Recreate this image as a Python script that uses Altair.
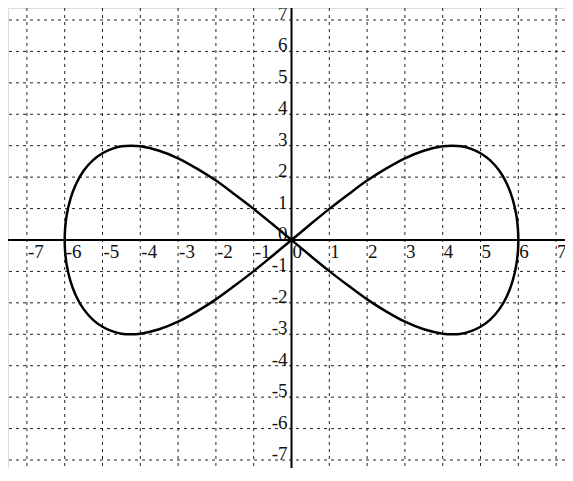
import altair as alt
import pandas as pd

# Curve points (figure-eight), in drawing order
curve_x = [0, 0.5, 1, 1.5, 2, 2.5, 3, 3.5, 4, 4.25, 4.5, 4.75, 5, 5.25, 5.5, 5.7, 5.85, 5.95, 5.99, 6,
           5.99, 5.95, 5.85, 5.7, 5.5, 5.25, 5, 4.75, 4.5, 4.25, 4, 3.5, 3, 2.5, 2, 1.5, 1, 0.5, 0,
           -0.5, -1, -1.5, -2, -2.5, -3, -3.5, -4, -4.25, -4.5, -4.75, -5, -5.25, -5.5, -5.7, -5.85, -5.95, -5.99, -6,
           -5.99, -5.95, -5.85, -5.7, -5.5, -5.25, -5, -4.75, -4.5, -4.25, -4, -3.5, -3, -2.5, -2, -1.5, -1, -0.5, 0]
curve_y = [0, 0.5, 0.99, 1.45, 1.89, 2.27, 2.6, 2.84, 2.98, 3.0, 2.98, 2.9, 2.76, 2.54, 2.2, 1.78, 1.3, 0.77, 0.35, 0,
           -0.35, -0.77, -1.3, -1.78, -2.2, -2.54, -2.76, -2.9, -2.98, -3.0, -2.98, -2.84, -2.6, -2.27, -1.89, -1.45, -0.99, -0.5, 0,
           0.5, 0.99, 1.45, 1.89, 2.27, 2.6, 2.84, 2.98, 3.0, 2.98, 2.9, 2.76, 2.54, 2.2, 1.78, 1.3, 0.77, 0.35, 0,
           -0.35, -0.77, -1.3, -1.78, -2.2, -2.54, -2.76, -2.9, -2.98, -3.0, -2.98, -2.84, -2.6, -2.27, -1.89, -1.45, -0.99, -0.5, 0]

x_ticks = [-7, -6, -5, -4, -3, -2, -1, 0, 1, 2, 3, 4, 5, 6, 7]
y_ticks = [-7, -6, -5, -4, -3, -2, -1, 0, 1, 2, 3, 4, 5, 6, 7]

curve = pd.DataFrame({"x": curve_x, "y": curve_y, "i": range(len(curve_x))})
xt = pd.DataFrame({"x": x_ticks, "y": [0] * len(x_ticks), "label": [str(v) for v in x_ticks]})
yt = pd.DataFrame({"y": y_ticks, "x": [0] * len(y_ticks), "label": [str(v) for v in y_ticks]})

xs = alt.Scale(domain=[-7.50, 7.235], nice=False, zero=False)
ys = alt.Scale(domain=[-7.254, 7.381], nice=False, zero=False)

FONT = "Liberation Serif"

vgrid = alt.Chart(xt).mark_rule(color="#222", strokeWidth=1, strokeDash=[3, 4]).encode(
    x=alt.X("x:Q", scale=xs, axis=None))
hgrid = alt.Chart(yt).mark_rule(color="#222", strokeWidth=1, strokeDash=[3, 4]).encode(
    y=alt.Y("y:Q", scale=ys, axis=None))

xaxis = alt.Chart(pd.DataFrame({"y": [0]})).mark_rule(color="black", strokeWidth=2).encode(
    y=alt.Y("y:Q", scale=ys, axis=None))
yaxis = alt.Chart(pd.DataFrame({"x": [0]})).mark_rule(color="black", strokeWidth=2).encode(
    x=alt.X("x:Q", scale=xs, axis=None))

xlabels = alt.Chart(xt).mark_text(font=FONT, fontSize=19, align="left", baseline="top",
                                  dx=1, dy=3, color="#111").encode(
    x=alt.X("x:Q", scale=xs, axis=None), y=alt.Y("y:Q", scale=ys, axis=None), text="label:N")
ylabels = alt.Chart(yt).mark_text(font=FONT, fontSize=19, align="right", baseline="alphabetic",
                                  dx=-4, dy=0, color="#111").encode(
    x=alt.X("x:Q", scale=xs, axis=None), y=alt.Y("y:Q", scale=ys, axis=None), text="label:N")

line = alt.Chart(curve).mark_line(color="black", strokeWidth=2.5, interpolate="catmull-rom").encode(
    x=alt.X("x:Q", scale=xs, axis=None), y=alt.Y("y:Q", scale=ys, axis=None), order="i:Q")

chart = alt.layer(vgrid, hgrid, xaxis, yaxis, xlabels, ylabels, line).properties(
    width=557, height=460, padding=0, autosize=alt.AutoSizeParams(type="none")
).configure_view(stroke=None).configure(background="white")

chart.save("out.html", embed_options={"renderer": "svg", "actions": False})
